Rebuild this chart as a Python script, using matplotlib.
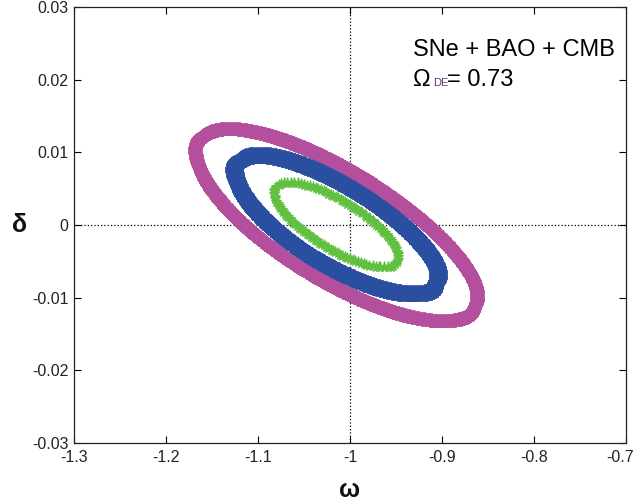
import numpy as np
import matplotlib
matplotlib.use("Agg")
import matplotlib.pyplot as plt
from matplotlib.transforms import ScaledTranslation

plt.rcParams['font.family'] = ['Liberation Sans', 'DejaVu Sans']

# best fit and errors
center = [-1.015, 0.0]        # (omega, delta)
sigma = [0.0446, 0.00385]     # sigma_omega, sigma_delta
rho = -0.76
levels = [2.30, 6.17, 11.8]   # 1, 2, 3 sigma for 2 parameters
colors = ['#62C040', '#2A4FA0', '#B34F9C']
line_px = [0, 12, 7]
star_pt = [8, 13, 10]
every = [5, 1, 1]

xticks = [-1.3, -1.2, -1.1, -1, -0.9, -0.8, -0.7]
yticks = [-0.03, -0.02, -0.01, 0, 0.01, 0.02, 0.03]

fig = plt.figure(figsize=(6.36, 5.03), dpi=100)
ax = fig.add_axes([74 / 636, 1 - 443 / 503, 552 / 636, 436 / 503])

w = np.linspace(-1.3, -0.7, 700)
d = np.linspace(-0.03, 0.03, 700)
W, D = np.meshgrid(w, d)
xw = (W - center[0]) / sigma[0]
xd = (D - center[1]) / sigma[1]
chi2 = (xw**2 - 2 * rho * xw * xd + xd**2) / (1 - rho**2)

cs = ax.contour(W, D, chi2, levels=levels, colors='none')
paths = cs.get_paths()

for i in [2, 1, 0]:
    v = paths[i].vertices
    if line_px[i] > 0:
        ax.plot(v[:, 0], v[:, 1], color=colors[i], lw=line_px[i] * 0.72,
                solid_capstyle='round', zorder=2)
    ax.plot(v[:, 0], v[:, 1], ls='none', marker='*', ms=star_pt[i],
            markevery=every[i], color=colors[i], mec=colors[i], mew=0.8,
            zorder=3)

ax.axvline(-1, color='black', ls=':', lw=0.9, zorder=1)
ax.axhline(0, color='black', ls=':', lw=0.9, zorder=1)

ax.set_xlim(-1.3, -0.7)
ax.set_ylim(-0.03, 0.03)
ax.set_xticks(xticks)
ax.set_xticklabels([f'{t:g}' for t in xticks])
ax.set_yticks(yticks)
ax.set_yticklabels([f'{t:g}' for t in yticks])
ax.tick_params(direction='in', top=True, right=True, length=5, width=0.8,
               labelsize=11.5, labelcolor='#222222')
ax.tick_params(axis='x', pad=5)
ax.tick_params(axis='y', pad=4)
for s in ax.spines.values():
    s.set_linewidth(0.9)
    s.set_color('#222222')

# keep the last x label inside the figure
last = ax.get_xticklabels()[-1]
last.set_transform(last.get_transform() + ScaledTranslation(-4 / 72, 0, fig.dpi_scale_trans))

ax.set_xlabel('ω', fontsize=18, fontweight='bold', color='#111111', va='center')
ax.xaxis.set_label_coords(0.5, -0.108)
ax.set_ylabel('δ', fontsize=18, fontweight='bold', color='#111111',
              rotation=0, va='center', ha='center')
ax.yaxis.set_label_coords(-0.098, 0.5)

ax.text(0.615, 0.887, 'SNe + BAO + CMB', transform=ax.transAxes,
        fontsize=17, color='black')
ax.text(0.615, 0.818, 'Ω', transform=ax.transAxes, fontsize=17, color='black')
ax.text(0.650, 0.818, 'DE', transform=ax.transAxes, fontsize=8, color='#5A3A7A')
ax.text(0.676, 0.818, '= 0.73', transform=ax.transAxes, fontsize=17,
        color='black')

fig.savefig('out.png', dpi=100)
